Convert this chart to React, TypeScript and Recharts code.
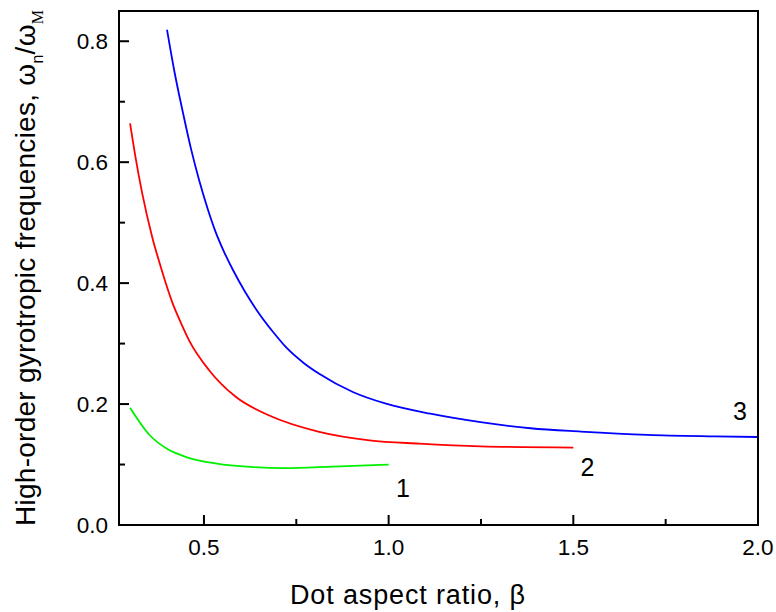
import { LineChart, Line, XAxis, YAxis, ReferenceDot } from 'recharts'

// curve 1 (green), 2 (red), 3 (blue): omega_n / omega_M vs beta
const beta1 = [0.3, 0.354, 0.4, 0.454, 0.535, 0.625, 0.715, 0.85, 1.0]
const freq1 = [0.194, 0.148, 0.126, 0.112, 0.1015, 0.096, 0.094, 0.0965, 0.1]

const beta2 = [0.3, 0.315, 0.333, 0.36, 0.386, 0.415, 0.437, 0.46, 0.514, 0.586, 0.677, 0.812, 0.948, 1.083, 1.249, 1.5]
const freq2 = [0.664, 0.607, 0.548, 0.476, 0.421, 0.367, 0.335, 0.305, 0.256, 0.212, 0.181, 0.154, 0.14, 0.1345, 0.13, 0.128]

const beta3 = [0.4, 0.42, 0.442, 0.465, 0.487, 0.51, 0.532, 0.555, 0.58, 0.61, 0.65, 0.69, 0.722, 0.77, 0.812, 0.903, 0.993, 1.113, 1.249, 1.384, 1.52, 1.701, 1.881, 2.0]
const freq3 = [0.819, 0.75, 0.685, 0.622, 0.57, 0.523, 0.484, 0.451, 0.42, 0.387, 0.349, 0.317, 0.294, 0.268, 0.25, 0.22, 0.2006, 0.184, 0.17, 0.16, 0.1545, 0.149, 0.1466, 0.1455]

const xTicks = [0.5, 0.75, 1.0, 1.25, 1.5, 1.75, 2.0]
const xMajor = [0.5, 1.0, 1.5, 2.0]
const yTicks = [0, 0.1, 0.2, 0.3, 0.4, 0.5, 0.6, 0.7, 0.8]
const yMajor = [0, 0.2, 0.4, 0.6, 0.8]

const curveLabels = [
  { name: '1', beta: 1.039, freq: 0.0615 },
  { name: '2', beta: 1.538, freq: 0.0954 },
  { name: '3', beta: 1.951, freq: 0.188 },
]

const W = 776
const H = 612
const M_TOP = 11
const M_RIGHT = 18
const Y_W = 119
const X_H = 87

const toRows = (xs: number[], ys: number[]) => xs.map((b, i) => ({ beta: b, freq: ys[i] }))

const series = [
  { key: 'c1', data: toRows(beta1, freq1), color: '#00f000' },
  { key: 'c2', data: toRows(beta2, freq2), color: '#ff0000' },
  { key: 'c3', data: toRows(beta3, freq3), color: '#0000ff' },
]

function XTick(props: any) {
  const { x, y, payload } = props
  const major = xMajor.includes(payload.value)
  return (
    <g>
      <line x1={x} x2={x} y1={y} y2={y - (major ? 10 : 6)} stroke="#000" strokeWidth={2} />
      {major && (
        <text x={x} y={y + 30} textAnchor="middle" fontSize={22.5} fill="#000">
          {payload.value.toFixed(1)}
        </text>
      )}
    </g>
  )
}

function YTick(props: any) {
  const { x, y, payload } = props
  const major = yMajor.includes(payload.value)
  return (
    <g>
      <line x1={x} x2={x + (major ? 10 : 6)} y1={y} y2={y} stroke="#000" strokeWidth={2} />
      {major && (
        <text x={x - 11} y={y + 8} textAnchor="end" fontSize={22.5} fill="#000">
          {payload.value.toFixed(1)}
        </text>
      )}
    </g>
  )
}

export default function App() {
  // frame around the plot box, from the same margins the chart uses
  const frame = {
    position: 'absolute' as const,
    left: Y_W - 1,
    top: M_TOP - 1,
    width: W - M_RIGHT - Y_W + 2,
    height: H - X_H - M_TOP + 2,
    border: '2px solid #000',
    boxSizing: 'border-box' as const,
    pointerEvents: 'none' as const,
  }
  return (
    <div style={{ position: 'absolute', left: 0, top: 0, width: W, height: H, fontFamily: '"Liberation Sans", Arial, sans-serif' }}>
      <LineChart width={W} height={H} margin={{ top: M_TOP, right: M_RIGHT, left: 0, bottom: 0 }}>
        <XAxis
          xAxisId="b"
          dataKey="beta"
          type="number"
          domain={[0.27, 2.0]}
          ticks={xTicks}
          allowDataOverflow
          height={X_H}
          tickSize={0}
          tickMargin={0}
          tickLine={false}
          tick={<XTick />}
          axisLine={false}
        />
        <YAxis
          yAxisId="l"
          type="number"
          domain={[0, 0.85]}
          ticks={yTicks}
          allowDataOverflow
          width={Y_W}
          tickSize={0}
          tickMargin={0}
          tickLine={false}
          tick={<YTick />}
          axisLine={false}
        />
        {series.map((s) => (
          <Line
            key={s.key}
            xAxisId="b"
            yAxisId="l"
            data={s.data}
            dataKey="freq"
            type="monotone"
            stroke={s.color}
            strokeWidth={1.8}
            dot={false}
            isAnimationActive={false}
          />
        ))}
        {curveLabels.map((c) => (
          <ReferenceDot
            key={c.name}
            xAxisId="b"
            yAxisId="l"
            x={c.beta}
            y={c.freq}
            r={0}
            fill="none"
            stroke="none"
            label={{ value: c.name, position: 'center', fontSize: 25, fill: '#000' }}
          />
        ))}
        <text x={290} y={604} fontSize={27} fill="#000" textLength={235} lengthAdjust="spacing">
          Dot aspect ratio, β
        </text>
        <text
          x={35}
          y={10}
          transform="rotate(-90 35 10)"
          textAnchor="end"
          fontSize={28}
          fill="#000"
          textLength={516}
          lengthAdjust="spacing"
        >
          High-order gyrotropic frequencies, ω
          <tspan fontSize={16} dy={8}>n</tspan>
          <tspan dy={-8}>/ω</tspan>
          <tspan fontSize={16} dy={8} fontFamily='"Liberation Serif", serif'>M</tspan>
        </text>
      </LineChart>
      <div style={frame} />
    </div>
  )
}
